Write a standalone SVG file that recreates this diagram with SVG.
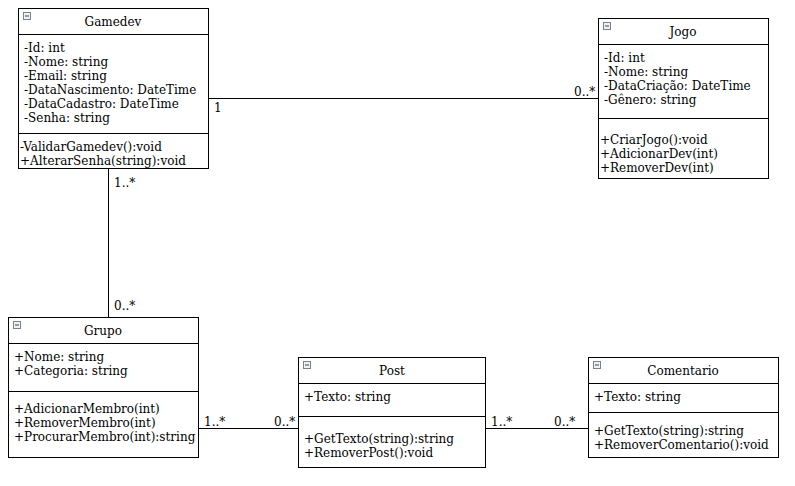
<svg xmlns="http://www.w3.org/2000/svg" width="795" height="486" viewBox="0 0 795 486">
<defs>
<style>
.box{fill:#fff;stroke:#000;stroke-width:1}
.div{stroke:#000;stroke-width:1}
.t{font-family:"DejaVu Serif",serif;font-size:12px;fill:#000}
.title{font-family:"DejaVu Serif",serif;font-size:12px;fill:#000;text-anchor:middle}
.ic{fill:#eef0f4;stroke:#7a8290;stroke-width:1}
.icm{stroke:#444;stroke-width:1}
.conn{stroke:#000;stroke-width:1;fill:none}
</style>
<g id="icon"><rect class="ic" x="0.5" y="0.5" width="7" height="7"/><line class="icm" x1="2" y1="4" x2="6" y2="4"/></g>
</defs>
<rect width="795" height="486" fill="#fff"/>
<g id="connectors">
<line class="conn" x1="208" y1="98.5" x2="598" y2="98.5"/>
<line class="conn" x1="108.5" y1="168" x2="108.5" y2="317"/>
<line class="conn" x1="198" y1="428.5" x2="298" y2="428.5"/>
<line class="conn" x1="485" y1="428.5" x2="588" y2="428.5"/>
<text class="t" x="214" y="112">1</text>
<text class="t" x="574" y="96">0..*</text>
<text class="t" x="114" y="187">1..*</text>
<text class="t" x="114" y="310">0..*</text>
<text class="t" x="204" y="426">1..*</text>
<text class="t" x="274" y="426">0..*</text>
<text class="t" x="491" y="426">1..*</text>
<text class="t" x="554" y="426">0..*</text>
</g>
<g id="Gamedev">
<rect class="box" x="18.5" y="8.5" width="190" height="160"/>
<line class="div" x1="18" y1="34.5" x2="208" y2="34.5"/>
<line class="div" x1="18" y1="133.5" x2="208" y2="133.5"/>
<use href="#icon" x="23" y="12"/>
<text class="title" x="113" y="26">Gamedev</text>
<text class="t" x="24" y="52">-Id: int</text>
<text class="t" x="24" y="66">-Nome: string</text>
<text class="t" x="24" y="80">-Email: string</text>
<text class="t" x="24" y="94">-DataNascimento: DateTime</text>
<text class="t" x="24" y="108">-DataCadastro: DateTime</text>
<text class="t" x="24" y="122">-Senha: string</text>
<text class="t" x="20" y="151">-ValidarGamedev():void</text>
<text class="t" x="20" y="165">+AlterarSenha(string):void</text>
</g>
<g id="Jogo">
<rect class="box" x="598.5" y="18.5" width="170" height="160"/>
<line class="div" x1="598" y1="44.5" x2="768" y2="44.5"/>
<line class="div" x1="598" y1="118.5" x2="768" y2="118.5"/>
<use href="#icon" x="603" y="22"/>
<text class="title" x="683" y="36">Jogo</text>
<text class="t" x="604" y="62">-Id: int</text>
<text class="t" x="604" y="76">-Nome: string</text>
<text class="t" x="604" y="90">-DataCriação: DateTime</text>
<text class="t" x="604" y="104">-Gênero: string</text>
<text class="t" x="600" y="144">+CriarJogo():void</text>
<text class="t" x="600" y="158">+AdicionarDev(int)</text>
<text class="t" x="600" y="172">+RemoverDev(int)</text>
</g>
<g id="Grupo">
<rect class="box" x="8.5" y="317.5" width="190" height="140"/>
<line class="div" x1="8" y1="343.5" x2="198" y2="343.5"/>
<line class="div" x1="8" y1="391.5" x2="198" y2="391.5"/>
<use href="#icon" x="13" y="321"/>
<text class="title" x="103" y="335">Grupo</text>
<text class="t" x="14" y="361">+Nome: string</text>
<text class="t" x="14" y="375">+Categoria: string</text>
<text class="t" x="14" y="413">+AdicionarMembro(int)</text>
<text class="t" x="14" y="427">+RemoverMembro(int)</text>
<text class="t" x="14" y="441">+ProcurarMembro(int):string</text>
</g>
<g id="Post">
<rect class="box" x="298.5" y="357.5" width="187" height="110"/>
<line class="div" x1="298" y1="383.5" x2="485" y2="383.5"/>
<line class="div" x1="298" y1="416.5" x2="485" y2="416.5"/>
<use href="#icon" x="303" y="361"/>
<text class="title" x="392" y="375">Post</text>
<text class="t" x="304" y="401">+Texto: string</text>
<text class="t" x="304" y="443">+GetTexto(string):string</text>
<text class="t" x="304" y="457">+RemoverPost():void</text>
</g>
<g id="Comentario">
<rect class="box" x="588.5" y="357.5" width="190" height="100"/>
<line class="div" x1="588" y1="383.5" x2="778" y2="383.5"/>
<line class="div" x1="588" y1="412.5" x2="778" y2="412.5"/>
<use href="#icon" x="593" y="361"/>
<text class="title" x="683" y="375">Comentario</text>
<text class="t" x="594" y="401">+Texto: string</text>
<text class="t" x="594" y="435">+GetTexto(string):string</text>
<text class="t" x="594" y="449">+RemoverComentario():void</text>
</g>
</svg>
